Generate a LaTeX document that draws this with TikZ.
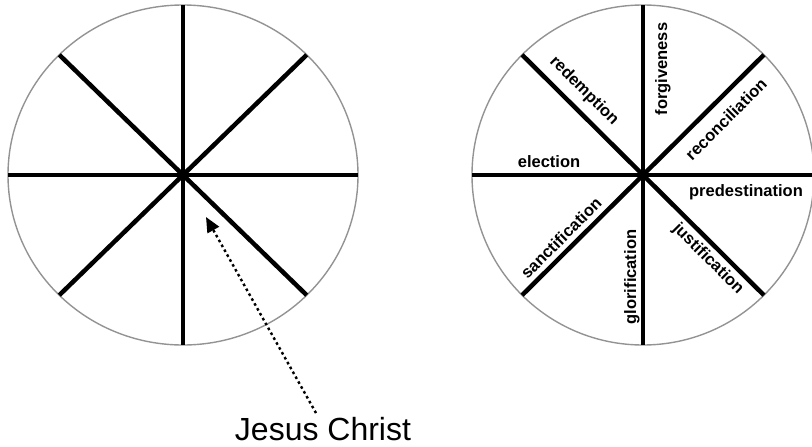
\documentclass[tikz,border=0pt]{standalone}
\usepackage{fontspec}
\setmainfont{Liberation Sans}
\usetikzlibrary{arrows.meta}

\tikzset{
  rim/.style={draw=gray!85, line width=1.4pt},
  spoke/.style={line width=4.5pt},
  grace/.style={font=\fontsize{16.5}{16.5}\selectfont\bfseries, inner sep=0pt},
  pointer/.style={dash pattern=on 2.6pt off 3pt, line width=2.4pt, -{Triangle[length=15pt,width=13pt]}},
}

\begin{document}
\begin{tikzpicture}[x=1pt,y=-1pt]
\useasboundingbox (0,0) rectangle (812,447);

\def\ry{170} % wheel half height

% Left wheel
\coordinate (lc) at (183,175);
\draw[rim] (lc) ellipse [x radius=175, y radius=\ry];
\foreach \a in {0,45,...,315}
  \draw[spoke] (lc) -- ++(\a:175 and \ry);

% Right wheel
\coordinate (rc) at (643,175);
\draw[rim] (rc) ellipse [x radius=171, y radius=\ry];
\foreach \a in {0,45,...,315}
  \draw[spoke] (rc) -- ++(\a:171 and \ry);

% Wheel labels
\node[grace, rotate=90]  (forgive)  at (663,69)  {forgiveness};
\node[grace, rotate=-45] (redeem)   at (584,91)  {redemption};
\node[grace, rotate=45]  (reconcile) at (726,119) {reconciliation};
\node[grace]             (elect)    at (549,162) {election};
\node[grace]             (predest)  at (746,192) {predestination};
\node[grace, rotate=45]  (sanctify) at (561,238) {sanctification};
\node[grace, rotate=90]  (glorify)  at (632,277) {glorification};
\node[grace, rotate=-45] (justify)  at (708,259) {justification};

% Caption and pointer
\coordinate (aim) at (206,217);
\node[font=\fontsize{32}{32}\selectfont, inner sep=4pt] (jc) at (323,429) {Jesus Christ};
\draw[pointer] ([xshift=-7pt]jc.north) -- (aim);

\end{tikzpicture}
\end{document}
